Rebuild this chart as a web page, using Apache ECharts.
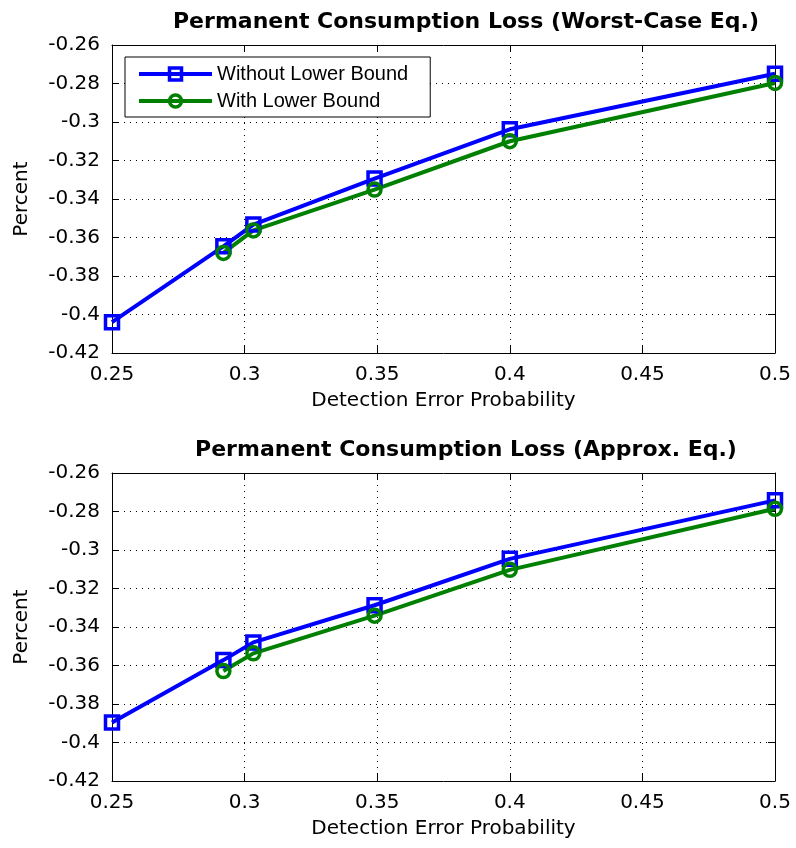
<!DOCTYPE html>
<html><head><meta charset="utf-8">
<script src="https://cdn.jsdelivr.net/npm/echarts@6/dist/echarts.min.js"></script>
<style>html,body{margin:0;padding:0;background:#fff}#c{width:796px;height:848px}</style>
</head><body><div id="c"></div>
<script>
const titles = ['Permanent Consumption Loss (Worst-Case Eq.)', 'Permanent Consumption Loss (Approx. Eq.)'];
const seriesNames = ['Without Lower Bound', 'With Lower Bound'];
const xWithout = [0.25, 0.292, 0.3033, 0.349, 0.4, 0.5];
const xWith = [0.292, 0.3033, 0.349, 0.4, 0.5];
const topWithout = [-0.404, -0.3646, -0.3533, -0.3294, -0.3038, -0.2749];
const topWith = [-0.368, -0.3563, -0.3351, -0.31, -0.2797];
const botWithout = [-0.3896, -0.3572, -0.348, -0.3287, -0.3046, -0.2742];
const botWith = [-0.3629, -0.3537, -0.3341, -0.3103, -0.2786];
const xName = 'Detection Error Probability';
const yName = 'Percent';

const pair = (xs, ys) => xs.map((x, i) => [x, ys[i]]);
const fmt = v => String(Number(v.toFixed(2)));
const FONT = 'DejaVu Sans';
const grids = [
  {left: 112, top: 45, width: 663, height: 308},
  {left: 112, top: 473, width: 663, height: 308}
];
const xAxes = [], yAxes = [];
grids.forEach((g, gi) => {
  xAxes.push({
    type: 'value', gridIndex: gi, min: 0.25, max: 0.5, interval: 0.05, position: 'bottom',
    name: xName, nameLocation: 'middle', nameGap: 38,
    nameTextStyle: {fontFamily: FONT, fontSize: 20, color: '#000'},
    axisLine: {show: true, onZero: false, lineStyle: {color: '#000', width: 1}},
    axisTick: {show: true, inside: true, length: 7, lineStyle: {color: '#000'}},
    axisLabel: {formatter: fmt, margin: 12, fontFamily: FONT, fontSize: 20, color: '#000'},
    splitLine: {show: true, lineStyle: {color: '#000', width: 1, type: [1, 5]}}
  });
  xAxes.push({
    type: 'value', gridIndex: gi, min: 0.25, max: 0.5, interval: 0.05, position: 'top',
    axisLine: {show: true, onZero: false, lineStyle: {color: '#000', width: 1}},
    axisTick: {show: true, inside: true, length: 7, lineStyle: {color: '#000'}},
    axisLabel: {show: false}, splitLine: {show: false}
  });
  yAxes.push({
    type: 'value', gridIndex: gi, min: -0.42, max: -0.26, interval: 0.02, position: 'left',
    name: yName, nameLocation: 'middle', nameGap: 80, nameRotate: 90,
    nameTextStyle: {fontFamily: FONT, fontSize: 20, color: '#000'},
    axisLine: {show: true, onZero: false, lineStyle: {color: '#000', width: 1}},
    axisTick: {show: true, inside: true, length: 7, lineStyle: {color: '#000'}},
    axisLabel: {formatter: fmt, margin: 12, fontFamily: FONT, fontSize: 20, color: '#000'},
    splitLine: {show: true, lineStyle: {color: '#000', width: 1, type: [1, 5]}}
  });
  yAxes.push({
    type: 'value', gridIndex: gi, min: -0.42, max: -0.26, interval: 0.02, position: 'right',
    axisLine: {show: true, onZero: false, lineStyle: {color: '#000', width: 1}},
    axisTick: {show: true, inside: true, length: 7, lineStyle: {color: '#000'}},
    axisLabel: {show: false}, splitLine: {show: false}
  });
});

function mk(name, data, gi, color, symbol) {
  return {
    name, type: 'line', xAxisIndex: gi * 2, yAxisIndex: gi * 2, data,
    symbol, symbolSize: 13, showAllSymbol: true, animation: false,
    color: color,
    lineStyle: {color, width: 4},
    itemStyle: {color: 'rgba(255,255,255,0)', borderColor: color, borderWidth: 3.5}
  };
}

const option = {
  animation: false,
  backgroundColor: '#fff',
  title: titles.map((t, i) => ({
    text: t, left: 461, top: i === 0 ? 6 : 434, textAlign: 'center',
    textStyle: {fontFamily: FONT, fontWeight: 'bold', fontSize: 22, color: '#000'}
  })),
  legend: {
    data: seriesNames, orient: 'vertical', left: 125, top: 57,
    borderColor: '#000', borderWidth: 1, padding: [7, 22, 6, 12], itemGap: 7,
    itemWidth: 73, itemHeight: 15, backgroundColor: '#fff',
    lineStyle: {width: 4},
    itemStyle: {borderWidth: 3.5},
    textStyle: {fontFamily: 'Liberation Sans', fontSize: 20, color: '#000'}
  },
  grid: grids,
  xAxis: xAxes,
  yAxis: yAxes,
  series: [
    mk(seriesNames[0], pair(xWithout, topWithout), 0, '#0000ff', 'rect'),
    mk(seriesNames[1], pair(xWith, topWith), 0, '#008000', 'circle'),
    mk(seriesNames[0], pair(xWithout, botWithout), 1, '#0000ff', 'rect'),
    mk(seriesNames[1], pair(xWith, botWith), 1, '#008000', 'circle')
  ]
};
echarts.init(document.getElementById('c')).setOption(option);
</script></body></html>
